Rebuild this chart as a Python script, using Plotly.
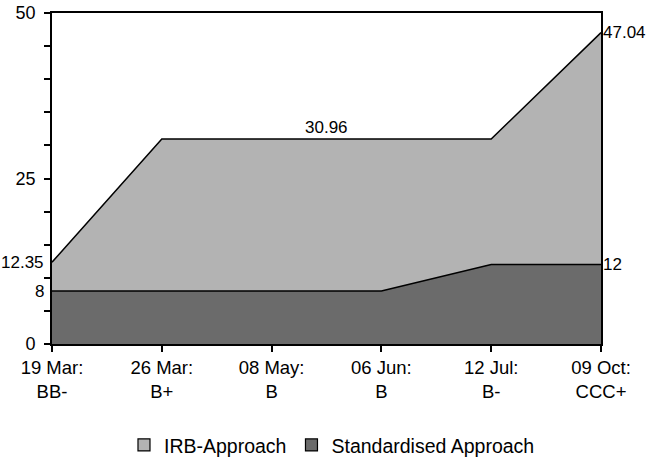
import plotly.graph_objects as go

categories = ["19 Mar:<br>BB-", "26 Mar:<br>B+", "08 May:<br>B", "06 Jun:<br>B", "12 Jul:<br>B-", "09 Oct:<br>CCC+"]
irb = [12.35, 30.96, 30.96, 30.96, 30.96, 47.04]
standardised = [8, 8, 8, 8, 12, 12]
y_ticks = [0, 5, 10, 15, 20, 25, 30, 35, 40, 45, 50]
y_labels = ["0", "", "", "", "", "25", "", "", "", "", "50"]

x = list(range(len(categories)))
IRB_COLOR = "#b3b3b3"
STD_COLOR = "#6b6b6b"
FONT = "Liberation Sans, Arial, sans-serif"
TXT = dict(family=FONT, size=17, color="black")

fig = go.Figure()
fig.add_trace(go.Scatter(x=x, y=irb, mode="lines", fill="tozeroy", fillcolor=IRB_COLOR,
                         line=dict(color="black", width=1.5), showlegend=False, hoverinfo="skip"))
fig.add_trace(go.Scatter(x=x, y=standardised, mode="lines", fill="tozeroy", fillcolor=STD_COLOR,
                         line=dict(color="black", width=1.5), showlegend=False, hoverinfo="skip"))
# legend-only entries
fig.add_trace(go.Bar(x=[None], y=[None], name="IRB-Approach",
                     marker=dict(color=IRB_COLOR, line=dict(color="black", width=1.2))))
fig.add_trace(go.Bar(x=[None], y=[None], name="Standardised Approach",
                     marker=dict(color=STD_COLOR, line=dict(color="black", width=1.2))))

annotations = []
# left-side value labels
for v in [irb[0], standardised[0]]:
    annotations.append(dict(x=0, xref="paper", y=v, yref="y", text=f"{v:g}", showarrow=False,
                            xanchor="right", yanchor="middle", xshift=-6, font=TXT))
# right-side value labels
for v in [irb[-1], standardised[-1]]:
    annotations.append(dict(x=x[-1], y=v, text=f"{v:g}", showarrow=False,
                            xanchor="left", yanchor="middle", xshift=0, font=TXT))
# middle flat segment label
annotations.append(dict(x=(x[1] + x[4]) / 2, y=irb[2], text=f"{irb[2]:g}", showarrow=False,
                        xanchor="center", yanchor="bottom", yshift=0, font=TXT))

fig.update_layout(
    width=646, height=458,
    margin=dict(l=52, r=45, t=13, b=114, autoexpand=False),
    paper_bgcolor="white", plot_bgcolor="white",
    font=TXT,
    annotations=annotations,
    legend=dict(orientation="h", x=0.51, xanchor="center", y=-0.306, yanchor="middle",
                font=dict(family=FONT, size=19.5, color="black"), itemwidth=30,
                traceorder="normal"),
    barmode="overlay",
)
fig.update_xaxes(range=[0, len(categories) - 1], tickvals=x, ticktext=categories,
                 showgrid=False, zeroline=False, showline=True, linecolor="black", linewidth=1.6,
                 mirror=True, ticks="outside", ticklen=6, tickwidth=1.5, tickcolor="black",
                 ticklabelstandoff=0, automargin=False, ticklabeloverflow="allow",
                 tickfont=dict(family=FONT, size=18.5, color="black"))
fig.update_yaxes(range=[0, 50], tickvals=y_ticks, ticktext=y_labels,
                 showgrid=False, zeroline=False, showline=True, linecolor="black", linewidth=1.6,
                 mirror=True, ticks="outside", ticklen=6, tickwidth=1.5, tickcolor="black",
                 ticklabelstandoff=5, automargin=False, ticklabeloverflow="allow",
                 tickfont=dict(family=FONT, size=18, color="black"))

fig.write_html("out.html", config={"displayModeBar": False},
               post_script="document.body.style.margin='0';")
